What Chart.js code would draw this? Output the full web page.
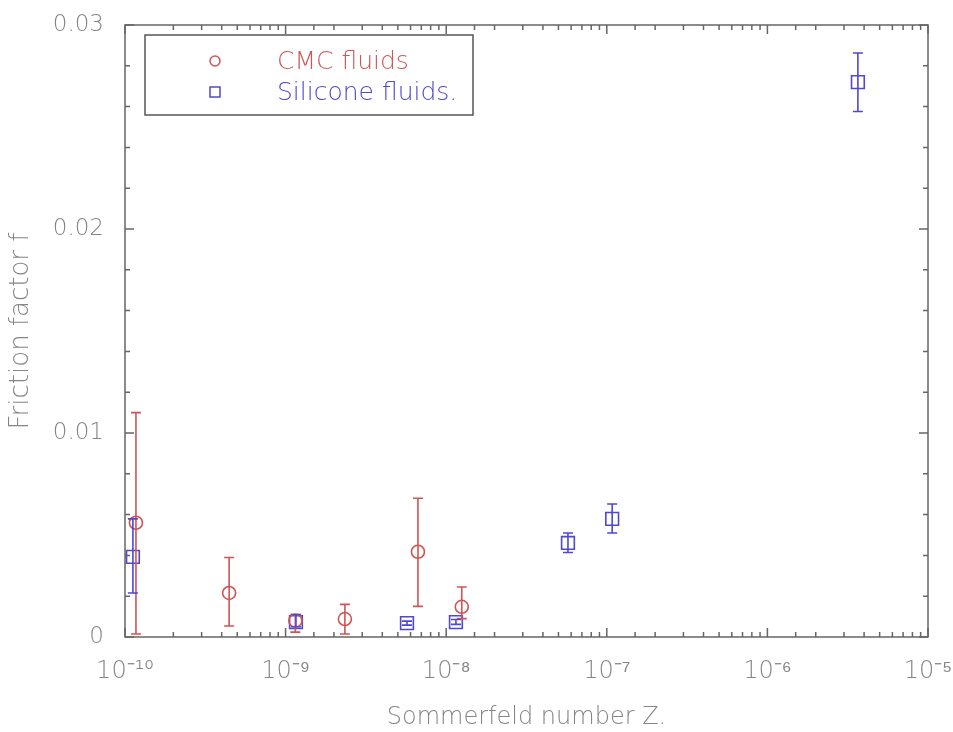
<!DOCTYPE html>
<html>
<head>
<meta charset="utf-8">
<title>Friction factor vs Sommerfeld number</title>
<script src="https://cdn.jsdelivr.net/npm/chart.js@4.4.0/dist/chart.umd.min.js"></script>
<style>
  html, body { margin: 0; padding: 0; background: #fff; }
  #wrap { width: 953px; height: 732px; position: relative; }
</style>
</head>
<body>
<div id="wrap"><canvas id="myChart"></canvas></div>
<script>
// series names
var seriesNames = ['CMC fluids', 'Silicone fluids.'];

// CMC fluids (circles): Sommerfeld number, friction factor, error bar ends
var cmcZ  = [1.17e-10, 4.45e-10, 1.15e-9, 2.34e-9, 6.67e-9, 1.25e-8];
var cmcF  = [0.0056, 0.00216, 0.0008, 0.00088, 0.00418, 0.00148];
var cmcLo = [0.00015, 0.00054, 0.00024, 0.00015, 0.0015, 0.0009];
var cmcHi = [0.011, 0.0039, 0.0011, 0.0016, 0.0068, 0.00245];

// Silicone fluids (squares)
var silZ  = [1.12e-10, 1.16e-9, 5.7e-9, 1.15e-8, 5.73e-8, 1.08e-7, 3.66e-6];
var silF  = [0.00393, 0.00073, 0.00068, 0.00073, 0.00461, 0.00579, 0.0272];
var silLo = [0.00216, 0.0005, 0.00058, 0.00062, 0.00414, 0.0051, 0.02576];
var silHi = [0.00579, 0.0011, 0.00078, 0.00086, 0.0051, 0.00652, 0.02863];

// tick labels
var xDecades = [1e-10, 1e-9, 1e-8, 1e-7, 1e-6, 1e-5];
var xTickLabels = ['10⁻¹⁰', '10⁻⁹', '10⁻⁸', '10⁻⁷', '10⁻⁶', '10⁻⁵'];
var yMajor = [0, 0.01, 0.02, 0.03];
var yTickLabels = ['0', '0.01', '0.02', '0.03'];

var red = 'rgb(208, 84, 84)';
var blue = 'rgb(80, 72, 206)';
var textGray = '#858585';
var axisGray = '#666';
var fontFam = "'DejaVu Sans', sans-serif";

function pts(zs, fs) {
  return zs.map(function (z, i) { return { x: z, y: fs[i] }; });
}

function decadeIndex(v) {
  return xDecades.findIndex(function (d) { return Math.abs(Math.log10(d) - Math.log10(v)) < 1e-6; });
}

function yMajorIndex(v) {
  return yMajor.findIndex(function (m) { return Math.abs(m - v) < 1e-9; });
}

// vertical error bars with caps
var errorBars = {
  id: 'errorBars',
  afterDatasetsDraw: function (chart) {
    var ctx = chart.ctx, xs = chart.scales.x, ys = chart.scales.y;
    chart.data.datasets.forEach(function (ds) {
      ctx.save();
      ctx.strokeStyle = ds.borderColor;
      ctx.lineWidth = 1.6;
      ctx.beginPath();
      ds.data.forEach(function (p, i) {
        var px = xs.getPixelForValue(p.x);
        var top = ys.getPixelForValue(ds.errHi[i]);
        var bot = ys.getPixelForValue(ds.errLo[i]);
        ctx.moveTo(px, top); ctx.lineTo(px, bot);
        ctx.moveTo(px - 5, top); ctx.lineTo(px + 5, top);
        ctx.moveTo(px - 5, bot); ctx.lineTo(px + 5, bot);
      });
      ctx.stroke();
      ctx.restore();
    });
  }
};

// box frame, inward ticks on all sides, and the boxed legend
var frameTicks = {
  id: 'frameTicks',
  afterDraw: function (chart) {
    var ctx = chart.ctx, a = chart.chartArea, xs = chart.scales.x, ys = chart.scales.y;
    ctx.save();
    ctx.strokeStyle = axisGray;
    ctx.lineWidth = 1.5;
    ctx.strokeRect(a.left, a.top, a.right - a.left, a.bottom - a.top);
    ctx.beginPath();
    xs.ticks.forEach(function (t) {
      var px = xs.getPixelForValue(t.value);
      var len = decadeIndex(t.value) >= 0 ? 9 : 5;
      ctx.moveTo(px, a.bottom); ctx.lineTo(px, a.bottom - len);
      ctx.moveTo(px, a.top); ctx.lineTo(px, a.top + len);
    });
    ys.ticks.forEach(function (t) {
      var py = ys.getPixelForValue(t.value);
      var len = yMajorIndex(t.value) >= 0 ? 9 : 5;
      ctx.moveTo(a.left, py); ctx.lineTo(a.left + len, py);
      ctx.moveTo(a.right, py); ctx.lineTo(a.right - len, py);
    });
    ctx.stroke();

    // legend
    var lx = a.left + 20, ly = a.top + 10, lw = 328, lh = 80;
    ctx.fillStyle = '#fff';
    ctx.fillRect(lx, ly, lw, lh);
    ctx.strokeStyle = '#555';
    ctx.lineWidth = 1.5;
    ctx.strokeRect(lx, ly, lw, lh);
    var mx = lx + 70;
    ctx.strokeStyle = red;
    ctx.beginPath();
    ctx.arc(mx, ly + 26, 5, 0, Math.PI * 2);
    ctx.stroke();
    ctx.strokeStyle = blue;
    ctx.strokeRect(mx - 5, ly + 52, 10, 10);
    ctx.font = '300 25px ' + fontFam;
    ctx.textBaseline = 'middle';
    ctx.textAlign = 'left';
    ctx.fillStyle = red;
    ctx.fillText(seriesNames[0], lx + 132, ly + 27);
    ctx.fillStyle = blue;
    ctx.fillText(seriesNames[1], lx + 132, ly + 58);
    ctx.restore();
  }
};

const ctx = document.getElementById('myChart');
new Chart(ctx, {
  type: 'scatter',
  data: {
    datasets: [{
      label: seriesNames[0],
      data: pts(cmcZ, cmcF),
      errLo: cmcLo,
      errHi: cmcHi,
      pointStyle: 'circle',
      pointRadius: 6.5,
      borderColor: red,
      backgroundColor: 'rgba(0,0,0,0)',
      borderWidth: 1.6
    }, {
      label: seriesNames[1],
      data: pts(silZ, silF),
      errLo: silLo,
      errHi: silHi,
      pointStyle: 'rect',
      pointRadius: 9,
      borderColor: blue,
      backgroundColor: 'rgba(0,0,0,0)',
      borderWidth: 1.6
    }]
  },
  options: {
    responsive: true,
    maintainAspectRatio: false,
    animation: false,
    layout: { padding: { top: 25, right: 25, left: 0, bottom: 0 } },
    plugins: {
      legend: { display: false },
      tooltip: { enabled: false }
    },
    scales: {
      x: {
        type: 'logarithmic',
        min: 1e-10,
        max: 1e-5,
        grid: { display: false },
        border: { display: false },
        ticks: {
          autoSkip: false,
          maxRotation: 0,
          padding: 12,
          color: textGray,
          font: { family: fontFam, size: 24, weight: 300 },
          callback: function (v) {
            var i = decadeIndex(v);
            return i >= 0 ? xTickLabels[i] : '';
          }
        },
        title: {
          display: true,
          text: 'Sommerfeld number Z.',
          color: textGray,
          font: { family: fontFam, size: 24, weight: 300 },
          padding: { top: 0, bottom: 0 }
        },
        afterFit: function (s) { s.height = 95; s.paddingLeft = 0; s.paddingRight = 0; }
      },
      y: {
        min: 0,
        max: 0.03,
        grid: { display: false },
        border: { display: false },
        ticks: {
          stepSize: 0.002,
          autoSkip: false,
          padding: 13,
          color: textGray,
          font: { family: fontFam, size: 23, weight: 300 },
          callback: function (v) {
            var i = yMajorIndex(v);
            return i >= 0 ? yTickLabels[i] : '';
          }
        },
        title: {
          display: true,
          text: 'Friction factor f',
          color: textGray,
          font: { family: fontFam, size: 26, weight: 300 },
          padding: { top: 6, bottom: 0 }
        },
        afterFit: function (s) { s.width = 125; s.paddingTop = 0; s.paddingBottom = 0; }
      }
    }
  },
  plugins: [errorBars, frameTicks]
});
</script>
</body>
</html>
